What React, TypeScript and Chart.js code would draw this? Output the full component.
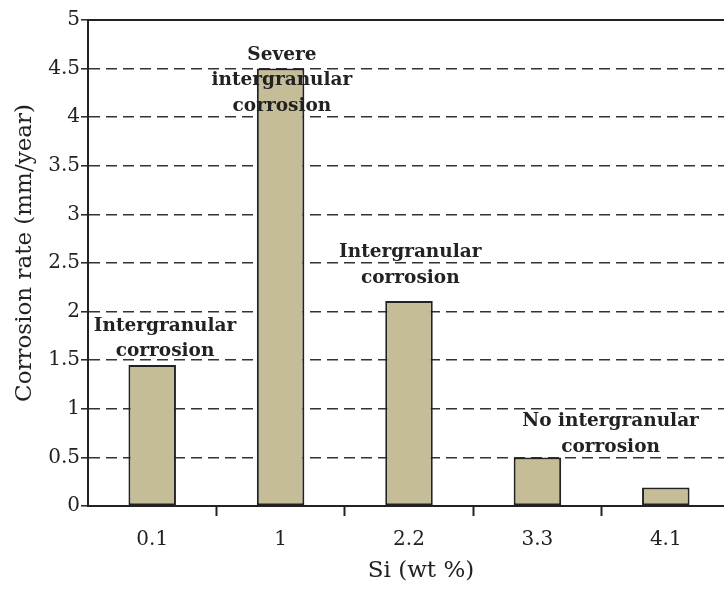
import React, { useEffect, useRef } from "react";
import { Chart, registerables } from "chart.js";

Chart.register(...registerables);

const categories = ["0.1", "1", "2.2", "3.3", "4.1"];
const corrosionRate = [1.45, 4.5, 2.11, 0.5, 0.19];
const yMin = 0;
const yMax = 5;
const yStep = 0.5;
const xTitle = "Si (wt %)";
const yTitle = "Corrosion rate (mm/year)";

const annotationLines = [
  ["Intergranular", "corrosion"],
  ["Severe", "intergranular", "corrosion"],
  ["Intergranular", "corrosion"],
  ["No intergranular", "corrosion"],
];
const annotationCategory = [0.1, 1.01, 2.01, 3.57];
const annotationValue = [1.85, 4.64, 2.61, 0.87];

const FONT = "'DejaVu Serif', 'Liberation Serif', serif";

const annotatePlugin = {
  id: "annotate",
  afterDatasetsDraw(chart: any) {
    const { ctx, chartArea, scales } = chart;
    ctx.save();
    // solid top frame line
    ctx.strokeStyle = "#222";
    ctx.lineWidth = 2;
    ctx.beginPath();
    ctx.moveTo(chartArea.left, chartArea.top);
    ctx.lineTo(chartArea.right, chartArea.top);
    ctx.stroke();

    ctx.fillStyle = "#222";
    ctx.font = "bold 18.5px " + FONT;
    ctx.textAlign = "center";
    ctx.textBaseline = "middle";
    annotationLines.forEach((lines, i) => {
      const x = scales.x.getPixelForValue(annotationCategory[i]);
      const y0 = scales.y.getPixelForValue(annotationValue[i]);
      lines.forEach((t, j) => {
        ctx.fillText(t, x, y0 + j * 25.5);
      });
    });

    // axis titles
    ctx.font = "23px " + FONT;
    ctx.fillStyle = "#222";
    ctx.textAlign = "center";
    ctx.textBaseline = "middle";
    const midX = (chartArea.left + chartArea.right) / 2 + 12;
    ctx.fillText(xTitle, midX, chartArea.bottom + 65);
    const midY = (chartArea.top + chartArea.bottom) / 2 - 10;
    ctx.translate(25, midY);
    ctx.rotate(-Math.PI / 2);
    ctx.fillText(yTitle, 0, 0);
    ctx.restore();
  },
};

export default function App() {
  const ref = useRef<HTMLCanvasElement>(null);
  useEffect(() => {
    if (!ref.current) return;
    const chart = new Chart(ref.current, {
      type: "bar",
      data: {
        labels: categories,
        datasets: [
          {
            data: corrosionRate,
            backgroundColor: "#c5bd98",
            borderColor: "#222",
            borderWidth: 2,
            borderSkipped: false,
            barPercentage: 0.37,
            categoryPercentage: 1,
          },
        ],
      },
      options: {
        responsive: false,
        maintainAspectRatio: false,
        animation: false,
        layout: { padding: { top: 20, right: 0, bottom: 0, left: 0 } },
        plugins: {
          legend: { display: false },
          tooltip: { enabled: false },
        },
        scales: {
          x: {
            grid: {
              offset: true,
              drawOnChartArea: false,
              drawTicks: true,
              tickLength: 10,
              tickColor: (c: any) => (c.index === 0 ? "rgba(0,0,0,0)" : "#222"),
              tickWidth: 2,
            },
            border: { display: true, color: "#222", width: 2 },
            ticks: {
              color: "#222",
              font: { family: FONT, size: 20 },
              padding: 12,
            },
            title: { display: false },
            afterFit(scale: any) {
              scale.height = 84;
            },
          },
          y: {
            min: yMin,
            max: yMax,
            ticks: {
              stepSize: yStep,
              color: "#222",
              font: { family: FONT, size: 20 },
              padding: 1,
              callback: (v: any) => String(Number(v)),
            },
            grid: {
              color: "#333",
              lineWidth: 1.6,
              drawTicks: true,
              tickLength: 7,
              tickColor: "#222",
              tickWidth: 1.5,
              tickBorderDash: [],
            },
            border: { display: true, color: "#222", width: 2, dash: [11, 6] },
            title: { display: false },
            afterFit(scale: any) {
              scale.width = 88;
            },
          },
        },
      },
      plugins: [annotatePlugin],
    } as any);
    return () => chart.destroy();
  }, []);
  return (
    <div
      style={{
        position: "fixed",
        left: 0,
        top: 0,
        width: 724,
        height: 590,
        overflow: "hidden",
        background: "#fff",
      }}
    >
      <canvas ref={ref} width={730} height={590} style={{ display: "block" }} />
    </div>
  );
}
